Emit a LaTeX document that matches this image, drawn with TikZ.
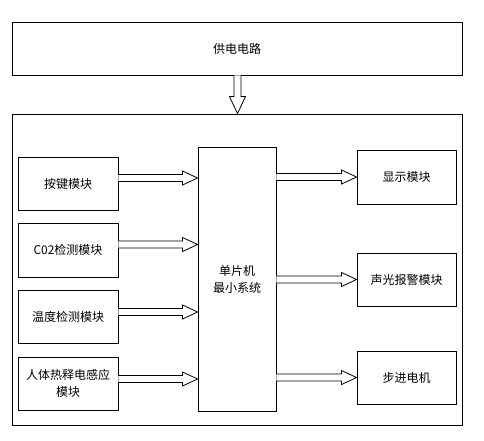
\documentclass[tikz,border=0pt]{standalone}
\usepackage{fontspec}
\newfontfamily\cjk{Noto Sans CJK SC}
\usetikzlibrary{calc}
\begin{document}
\begin{tikzpicture}[x=1pt,y=-1pt,
  box/.style={draw=black,line width=0.9pt,fill=white,inner sep=0pt,align=center,
    font=\cjk\fontsize{12}{17}\selectfont},
  fatarrow/.style={draw=black,line width=0.8pt,fill=white,
    to path={let \p1=(\tikztostart), \p2=(\tikztotarget) in
      (\x1,\y1+3.5pt) -- (\x2-15pt,\y1+3.5pt) -- (\x2-15pt,\y1+7pt) -- (\x2,\y1)
      -- (\x2-15pt,\y1-7pt) -- (\x2-15pt,\y1-3.5pt) -- (\x1,\y1-3.5pt)}},
  fatdown/.style={draw=black,line width=0.8pt,fill=white,
    to path={let \p1=(\tikztostart), \p2=(\tikztotarget) in
      (\x1-3.5pt,\y1) -- (\x1-3.5pt,\y2+17pt) -- (\x1-8pt,\y2+17pt) -- (\x1,\y2)
      -- (\x1+8pt,\y2+17pt) -- (\x1+3.5pt,\y2+17pt) -- (\x1+3.5pt,\y1)}}]
\useasboundingbox (0,0) rectangle (484,440);
\node[box,minimum width=450pt,minimum height=53pt] (power) at (237,48.5) {供电电路};
\node[box,fill=none,minimum width=450pt,minimum height=311pt] (outer) at (237,269.5) {};
\node[box,minimum width=100pt,minimum height=53pt] (key) at (68,183.5) {按键模块};
\node[box,minimum width=100pt,minimum height=54pt] (co2) at (68,250) {C02检测模块};
\node[box,minimum width=100pt,minimum height=53pt] (temp) at (68,316.5) {温度检测模块};
\node[box,minimum width=100pt,minimum height=53pt] (pir) at (68,383.5) {人体热释电感应\\模块};
\node[box,minimum width=78pt,minimum height=264pt] (mcu) at (237,279) {单片机\\最小系统};
\node[box,minimum width=99pt,minimum height=54pt] (disp) at (406.5,177) {显示模块};
\node[box,minimum width=99pt,minimum height=53pt] (alarm) at (406.5,279.5) {声光报警模块};
\node[box,minimum width=99pt,minimum height=53pt] (motor) at (406.5,377.5) {步进电机};
\draw[fatdown] ([xshift=0.5pt]power.south) to ([xshift=0.5pt]outer.north);
\draw[fatarrow] ([yshift=5.5pt]key.east) to (key.east -| mcu.west);
\draw[fatarrow] ([yshift=5.5pt]co2.east) to (co2.east -| mcu.west);
\draw[fatarrow] ([yshift=4.5pt]temp.east) to (temp.east -| mcu.west);
\draw[fatarrow] ([yshift=4.5pt]pir.east) to (pir.east -| mcu.west);
\draw[fatarrow] (mcu.east |- disp.west) to (disp.west);
\draw[fatarrow] (mcu.east |- alarm.west) to (alarm.west);
\draw[fatarrow] (mcu.east |- motor.west) to (motor.west);
\end{tikzpicture}
\end{document}
